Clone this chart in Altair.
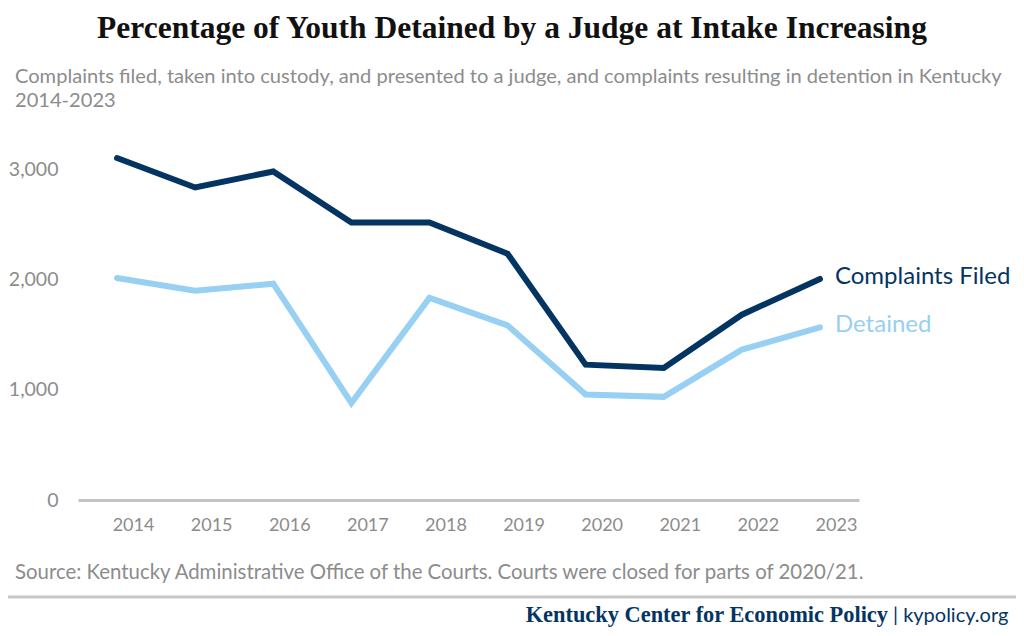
import altair as alt
import pandas as pd

years = list(range(2014, 2024))
complaints = [3100, 2833, 2978, 2516, 2516, 2233, 1227, 1197, 1680, 2004]
detained = [2013, 1898, 1961, 880, 1832, 1583, 956, 935, 1363, 1565]
series_names = ["Complaints Filed", "Detained"]
series_colors = ["#043562", "#97d0f2"]
y_ticks = [0, 1000, 2000, 3000]

title_text = "Percentage of Youth Detained by a Judge at Intake Increasing"
subtitle_lines = [
    "Complaints filed, taken into custody, and presented to a judge, and complaints resulting in detention in Kentucky",
    "2014-2023",
]
source_text = "Source: Kentucky Administrative Office of the Courts. Courts were closed for parts of 2020/21."
footer_org = "Kentucky Center for Economic Policy"
footer_site = "| kypolicy.org"

df = pd.DataFrame({
    "year": years * 2,
    "value": complaints + detained,
    "series": [series_names[0]] * len(years) + [series_names[1]] * len(years),
})
last = df[df["year"] == years[-1]]

SANS = "Lato"
SERIF = "Liberation Serif"
GRAY = "#8c8c8c"

x_enc = alt.X(
    "year:Q",
    scale=alt.Scale(domain=[years[0] - 0.5, years[-1] + 0.5], nice=False, zero=False),
    axis=alt.Axis(
        values=years, format="d", title=None, grid=False, ticks=False,
        domainColor="#c4c4c4", domainWidth=3, labelColor=GRAY, labelFont=SANS,
        labelFontSize=18, labelPadding=16, labelOffset=16,
    ),
)
y_enc = alt.Y(
    "value:Q",
    scale=alt.Scale(domain=[0, 3200], nice=False),
    axis=alt.Axis(
        values=y_ticks, format=",.0f", title=None, grid=False, ticks=False,
        domain=False, labelColor=GRAY, labelFont=SANS, labelFontSize=19.5,
        labelPadding=20,
    ),
)
color_enc = alt.Color(
    "series:N",
    scale=alt.Scale(domain=series_names, range=series_colors),
    legend=None,
)

lines = alt.Chart(df).mark_line(strokeWidth=6, strokeCap="round", strokeJoin="miter").encode(
    x=x_enc, y=y_enc, color=color_enc
)
labels = alt.Chart(last).mark_text(align="left", baseline="middle", dx=15, dy=-2,
                                   font=SANS, fontSize=24).encode(
    x="year:Q", y="value:Q", text="series:N", color=color_enc
)


def text_layer(txt, x, y, **kw):
    return alt.Chart(pd.DataFrame({"t": [txt]})).mark_text(**kw).encode(
        x=alt.value(x), y=alt.value(y), text="t:N"
    )


title = text_layer(title_text, 434, -109, font=SERIF, fontSize=31.5, fontWeight="bold",
                   color="#111111", align="center", baseline="alphabetic")
sub1 = text_layer(subtitle_lines[0], -63, -64, font=SANS, fontSize=20.1, color=GRAY,
                  align="left", baseline="alphabetic")
sub2 = text_layer(subtitle_lines[1], -63, -40, font=SANS, fontSize=20.1, color=GRAY,
                  align="left", baseline="alphabetic")
source = text_layer(source_text, -63, 432, font=SANS, fontSize=20.4, color=GRAY,
                    align="left", baseline="alphabetic")
rule = alt.Chart(pd.DataFrame({"a": [0]})).mark_rule(color="#c8c8c8", strokeWidth=3).encode(
    x=alt.value(-70), x2=alt.value(938), y=alt.value(450)
)
org = text_layer(footer_org, 810, 475, font=SERIF, fontSize=22.4, fontWeight="bold",
                 color="#043562", align="right", baseline="alphabetic")
site = text_layer(footer_site, 815, 475, font=SANS, fontSize=20, color="#043562",
                  align="left", baseline="alphabetic")

chart = alt.layer(lines, labels, title, sub1, sub2, source, rule, org, site).properties(
    width=781,
    height=353,
    autosize=alt.AutoSizeParams(type="none"),
    padding={"left": 70, "top": 139, "right": 157, "bottom": 128},
    background="white",
).configure_view(stroke=None, strokeWidth=0)

chart.save("out.html", embed_options={"renderer": "svg", "actions": False})
